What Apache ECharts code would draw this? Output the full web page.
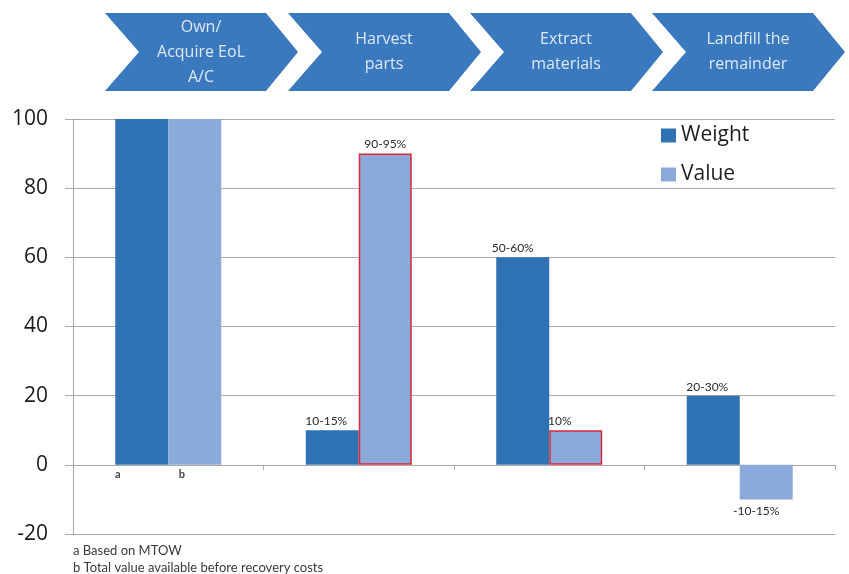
<!DOCTYPE html>
<html>
<head>
<meta charset="utf-8">
<script src="https://cdn.jsdelivr.net/npm/echarts@6/dist/echarts.min.js"></script>
<style>
  html, body { margin: 0; padding: 0; background: #fff; }
  #chart { width: 849px; height: 574px; }
</style>
</head>
<body>
<div id="chart"></div>
<script>
// Process stages shown as chevrons above each category
const stages = ['Own/\nAcquire EoL\nA/C', 'Harvest\nparts', 'Extract\nmaterials', 'Landfill the\nremainder'];
const categories = ['Own/Acquire EoL A/C', 'Harvest parts', 'Extract materials', 'Landfill the remainder'];

// Share of aircraft weight and value per stage
const weight = [100, 10, 60, 20];
const value = [100, 90, 10, -10];
const weightLabels = ['a', '10-15%', '50-60%', '20-30%'];
const valueLabels = ['b', '90-95%', '10%', '-10-15%'];

// Value axis
const yMin = -20, yMax = 100, yStep = 20;

const footnotes = ['a Based on MTOW', 'b Total value available before recovery costs'];

const FONT = 'Lato, "Open Sans", sans-serif';
const WIDE_FONT = '"Open Sans", Lato, sans-serif';
const WEIGHT_COLOR = '#2f72b3';
const VALUE_COLOR = '#8caad9';
const GRID_COLOR = '#b3a7a5';

const chart = echarts.init(document.getElementById('chart'), null, { renderer: 'canvas' });

// Chevron banner and footnotes
const chevronLeft = [105, 288, 470, 652];
const decorations = [];
stages.forEach((txt, i) => {
  const x0 = chevronLeft[i];
  decorations.push({
    type: 'polygon',
    shape: { points: [[x0, 13], [x0 + 161, 13], [x0 + 193, 52], [x0 + 161, 91], [x0, 91], [x0 + 34, 52]] },
    style: { fill: '#3a79bd' }
  });
  decorations.push({
    type: 'text',
    x: x0 + 96,
    y: 52,
    style: {
      text: txt,
      fill: '#dde9f6',
      font: '16px ' + WIDE_FONT,
      align: 'center',
      verticalAlign: 'middle',
      lineHeight: 25
    }
  });
});
footnotes.forEach((t, i) => {
  decorations.push({
    type: 'text',
    x: 73,
    y: 551 + i * 17,
    style: { text: t, fill: '#3a3a3a', font: '13px ' + FONT, verticalAlign: 'middle' }
  });
});

function labelFor(labels, i, isValue) {
  if (i === 0) {
    return { show: true, position: 'bottom', distance: 4, offset: [isValue ? -13 : -24, 0],
             formatter: labels[i], fontSize: 11, fontWeight: 'bold', color: '#444', fontFamily: FONT };
  }
  const neg = (isValue ? value : weight)[i] < 0;
  let off = [0, 0];
  if (!isValue && i === 1) off = [-6, 0];
  if (!isValue && i === 2) off = [-10, 0];
  if (!isValue && i === 3) off = [-6, 0];
  if (isValue && i === 2) off = [-16, 0];
  if (isValue && i === 3) off = [-10, 0];
  return { show: true, position: neg ? 'bottom' : 'top', distance: neg ? 6 : 3, offset: off,
           formatter: labels[i], fontSize: 12, color: '#2a2a2a', fontFamily: FONT };
}

const option = {
  animation: false,
  backgroundColor: '#ffffff',
  textStyle: { fontFamily: FONT },
  grid: { left: 73, right: 14, top: 119, bottom: 40, containLabel: false },
  legend: {
    orient: 'vertical',
    left: 656,
    top: 120,
    itemWidth: 15,
    itemHeight: 14,
    itemGap: 18,
    icon: 'rect',
    textStyle: { fontSize: 21, color: '#1e1e1e', fontFamily: WIDE_FONT },
    data: ['Weight', 'Value']
  },
  xAxis: {
    type: 'category',
    data: categories,
    boundaryGap: true,
    axisLine: { onZero: true, lineStyle: { color: GRID_COLOR, width: 1 } },
    axisTick: { show: true, length: 5, lineStyle: { color: GRID_COLOR } },
    axisLabel: { show: false }
  },
  yAxis: {
    type: 'value',
    min: yMin,
    max: yMax,
    interval: yStep,
    axisLine: { show: true, lineStyle: { color: GRID_COLOR, width: 1 } },
    axisTick: { show: true, length: 8, lineStyle: { color: GRID_COLOR } },
    axisLabel: { fontSize: 21, color: '#1a1a1a', margin: 25, fontFamily: WIDE_FONT },
    splitLine: { show: true, lineStyle: { color: GRID_COLOR, width: 1 } }
  },
  series: [
    {
      name: 'Weight',
      type: 'bar',
      barWidth: 53,
      barGap: '0%',
      itemStyle: { color: WEIGHT_COLOR },
      data: weight.map((v, i) => ({ value: v, label: labelFor(weightLabels, i, false) }))
    },
    {
      name: 'Value',
      type: 'bar',
      barWidth: 53,
      barGap: '0%',
      itemStyle: { color: VALUE_COLOR },
      data: value.map((v, i) => ({
        value: v,
        label: labelFor(valueLabels, i, true),
        itemStyle: (i === 1 || i === 2)
          ? { color: VALUE_COLOR, borderColor: '#d8283c', borderWidth: 1.5 }
          : { color: VALUE_COLOR }
      }))
    }
  ],
  graphic: decorations
};

chart.setOption(option);
</script>
</body>
</html>
